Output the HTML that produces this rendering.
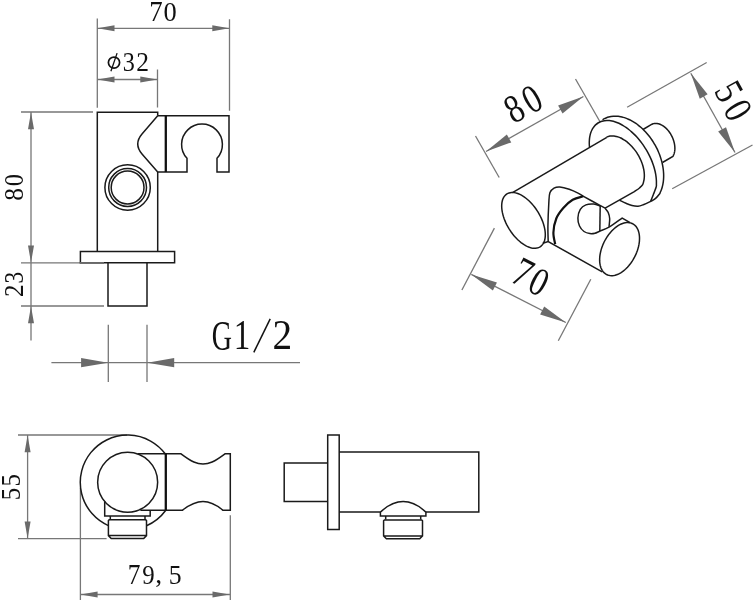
<!DOCTYPE html>
<html><head><meta charset="utf-8">
<style>
html,body{margin:0;padding:0;background:#fff;width:755px;height:600px;overflow:hidden}
svg{display:block;will-change:transform}
.o{fill:none;stroke:#1a1a1a;stroke-width:1.5;stroke-linejoin:miter}
.d{fill:none;stroke:#777;stroke-width:1.3}
.a{fill:#6a6a6a;stroke:none}
.t{font-family:"Liberation Serif",serif;fill:#111;stroke:#111;stroke-width:0}
</style></head><body>
<svg width="755" height="600" viewBox="0 0 755 600">
<!-- ===== Front view (top-left) ===== -->
<g class="d">
  <path d="M97.3,18.5V107.7 M229.5,19.2V110.8 M97.3,28.3H229.5"/>
  <path d="M157.5,69.6V107.6 M97.3,79.5H157.5"/>
  <path d="M21,112H93 M31,112V340.5 M21,262.8H104 M21,306H104"/>
  <path d="M108.3,324.7V382 M147,324.7V382 M51.4,362.7H300"/>
</g>
<g class="a">
  <path d="M97.5,28.3l17,-3v6z M229.3,28.3l-17,-3v6z"/>
  <path d="M97.5,79.5l17,-3v6z M157.3,79.5l-17,-3v6z"/>
  <path d="M31,112.2l-3,17h6z M31,262.6l-3,-17h6z M31,306.2l-3,17h6z"/>
  <path d="M108.1,362.7l-27,-4.6v9.2z M147.2,362.7l27,-4.6v9.2z"/>
</g>
<g class="o">
  <path d="M97.3,251.6V112.2H157.7V115.7"/>
  <path d="M157.7,172V251.6"/>
  <path d="M157.7,115.7L142,134Q133.5,144 142,154L157.7,172"/>
  <path d="M157.7,115.7H229V172H217V158.3A20.4,20.4 0 1 0 187,158.3V172H157.7"/>
  <circle cx="127.6" cy="187.5" r="22.7"/>
  <circle cx="127.6" cy="187.5" r="18.9"/>
  <circle cx="127.6" cy="187.5" r="16.4"/>
  <path d="M80.4,251.4H174.6V262.8H80.4Z"/>
  <path d="M108,262.8V306H147V262.8"/>
</g>
<path d="M165.8,115.7V172" fill="none" stroke="#111" stroke-width="2.3"/>
<path class="d" d="M79.7,262.8H104"/>
<!-- ===== Top view (bottom-left) ===== -->
<g class="d">
  <path d="M18,435H127 M18,538.6H106.6 M27.6,435V538.6"/>
  <path d="M80.4,488V600 M230.3,515.3V600 M80.4,594.5H229.7"/>
</g>
<g class="a">
  <path d="M27.6,435.2l-3,17h6z M27.6,538.4l-3,-17h6z"/>
  <path d="M80.6,594.5l17,-3v6z M229.5,594.5l-17,-3v6z"/>
</g>
<g class="o">
  <path d="M165.8,454.5A47.3,47.3 0 1 0 108.4,525.6"/>
  <path d="M146.5,525.8A47.3,47.3 0 0 0 165.8,510.3"/>
  <circle cx="127.65" cy="482.2" r="30"/>
  <path d="M137.9,453.8H181C192,462 197,464 203,464S214,462 225,453.8H230.3V510.3H223C214,503 209,501.6 203,501.6S192,503 182.3,510.3H140.4"/>
  <path d="M104.7,501.5V515.9H150.2V510.3"/>
  <path d="M110.3,515.9V519.6 M145,515.9V519.6"/>
  <path d="M109.2,519.8H145.7L146.5,520.6V535.6L143.7,538.6H111.2L108.4,535.6V520.6Z M108.4,535.6H146.5"/>
</g>
<path d="M165.8,453.3V510.3" fill="none" stroke="#111" stroke-width="2.3"/>
<!-- ===== Side view (bottom-right) ===== -->
<g class="o">
  <path d="M327.7,462.9H284.2V501.6H327.7"/>
  <path d="M327.7,435H339.2V529.4H327.7Z"/>
  <path d="M339.2,452.1H478.8V512.1H426 M380.5,512.1H339.2"/>
  <path d="M380.4,512.1V516.1H425.9V512.1 M380.4,512.1Q403.2,491 425.9,512.1"/>
  <path d="M385.7,516.1V519.6 M420.7,516.1V519.6"/>
  <path d="M384.4,519.9H421.7L422.5,520.7V535.9L419.7,538.8H386.4L383.6,535.9V520.7Z M383.6,535.9H422.5"/>
</g>
<g class="t">
<text transform="matrix(0.2691,0,0,0.2862,149.35,20.84)" font-size="100">7</text>
<text transform="matrix(0.2643,0,0,0.2785,163.54,20.62)" font-size="100">0</text>
<text transform="matrix(0.2415,0,0,0.2657,122.79,71.03)" font-size="100">3</text>
<text transform="matrix(0.2550,0,0,0.2652,136.35,71.00)" font-size="100">2</text>
<text stroke-width="0" transform="matrix(0.2800,0,0,0.4239,211.78,349.68)" font-size="100">G</text>
<text stroke-width="0" transform="matrix(0.3314,0,0,0.4229,233.72,349.40)" font-size="100">1</text>

<text stroke-width="0" transform="matrix(0.3925,0,0,0.4136,272.53,349.00)" font-size="100">2</text>
<text transform="matrix(0.2543,0,0,0.2862,127.75,583.94)" font-size="100">7</text>
<text transform="matrix(0.2488,0,0,0.2776,142.15,583.52)" font-size="100">9</text>
<text transform="matrix(0.2759,0,0,0.2627,155.30,582.66)" font-size="100">,</text>
<text transform="matrix(0.2575,0,0,0.2737,168.76,583.53)" font-size="100">5</text>
<text transform="matrix(0,-0.2548,0.2770,0,23.42,200.72)" font-size="100">8</text>
<text transform="matrix(0,-0.2452,0.2711,0,23.03,186.28)" font-size="100">0</text>
<text transform="matrix(0,-0.2500,0.2773,0,23.30,297.12)" font-size="100">2</text>
<text transform="matrix(0,-0.2341,0.2731,0,23.03,283.47)" font-size="100">3</text>
<text transform="matrix(0,-0.2500,0.2752,0,19.72,500.20)" font-size="100">5</text>
<text transform="matrix(0,-0.2500,0.2752,0,19.72,486.50)" font-size="100">5</text>
</g>
<path d="M270.2,318.8L253.8,352.3" fill="none" stroke="#111" stroke-width="1.5"/>
<g fill="none" stroke="#111"><ellipse cx="114" cy="62.6" rx="5.6" ry="5.5" stroke-width="1.7"/><path d="M117.1,53.1L110.9,71.3" stroke-width="1.3"/></g>
<!-- ===== Iso view (top-right) ===== -->
<g id="iso"><g class="d"><path d="M475.5,136 L499.2,177.5"/><path d="M575.5,79 L600,121.7"/><path d="M486,151.5 L583.4,96.5"/><path d="M627.1,107.2 L706.7,62.5"/><path d="M672.2,188.7 L752.5,145"/><path d="M690.8,73.3 L735,152.5"/><path d="M461.9,290 L494.4,228.1"/><path d="M558.3,340.8 L590.8,279.2"/><path d="M471.3,274.4 L565.8,322.5"/></g>
<g class="a"><path d="M486.00,151.50 L511.29,142.39 L506.86,134.55Z"/><path d="M583.40,96.50 L558.11,105.61 L562.54,113.45Z"/><path d="M690.80,73.30 L699.78,98.63 L707.64,94.25Z"/><path d="M735.00,152.50 L726.02,127.17 L718.16,131.55Z"/><path d="M471.30,274.40 L492.88,290.43 L496.96,282.41Z"/><path d="M565.80,322.50 L544.22,306.47 L540.14,314.49Z"/></g>
<g class="o"><path d="M506.91,193.94 L507.94,193.38 L509.04,192.96 L510.21,192.67 L511.45,192.51 L512.75,192.50 L514.10,192.61 L515.50,192.86 L516.93,193.25 L518.40,193.77 L519.89,194.42 L521.40,195.19 L522.92,196.09 L524.44,197.11 L525.96,198.24 L527.46,199.47 L528.95,200.81 L530.41,202.25 L531.84,203.77 L533.22,205.37 L534.56,207.05 L535.84,208.79 L537.07,210.59 L538.23,212.44 L539.31,214.32 L540.32,216.24 L541.25,218.17 L542.09,220.12 L542.84,222.06 L543.50,224.00 L544.05,225.92 L544.51,227.82 L544.87,229.68 L545.12,231.49 L545.27,233.25 L545.31,234.94 L545.24,236.57 L545.07,238.11 L544.80,239.57 L544.42,240.94 L543.93,242.21 L543.35,243.37 L542.67,244.41 L541.90,245.35 L541.04,246.15 L540.09,246.84 L539.07,247.39 L537.96,247.82 L536.79,248.11 L535.55,248.26 L534.25,248.28 L532.90,248.16 L531.51,247.91 L530.07,247.52 L528.61,247.01 L527.11,246.36 L525.60,245.58 L524.09,244.68 L522.56,243.67 L521.05,242.54 L519.54,241.30 L518.05,239.96 L516.59,238.53 L515.17,237.00 L513.78,235.40 L512.44,233.72 L511.16,231.98 L509.94,230.18 L508.78,228.34 L507.69,226.45 L506.68,224.54 L505.75,222.60 L504.91,220.66 L504.16,218.71 L503.51,216.77 L502.95,214.85 L502.49,212.96 L502.13,211.10 L501.88,209.29 L501.73,207.53 L501.69,205.83 L501.76,204.21 L501.93,202.66 L502.21,201.20 L502.59,199.83 L503.07,198.57 L503.65,197.41 L504.33,196.36 L505.10,195.43 L505.96,194.62Z"/>
<path d="M512.5,192.6 L606.8,137.3"/>
<path d="M606.67,137.07 C606.85,136.99 607.38,136.75 607.75,136.62 C608.12,136.49 608.49,136.37 608.88,136.28 C609.27,136.18 609.66,136.10 610.06,136.04 C610.47,135.98 610.88,135.94 611.29,135.91 C611.71,135.89 612.13,135.88 612.56,135.89 C612.99,135.90 613.43,135.93 613.87,135.98 C614.31,136.03 614.76,136.10 615.20,136.18 C615.65,136.26 616.11,136.36 616.57,136.48 C617.02,136.60 617.49,136.74 617.95,136.89 C618.41,137.05 618.88,137.22 619.35,137.41 C619.81,137.60 620.28,137.81 620.75,138.03 C621.22,138.25 621.69,138.49 622.16,138.75 C622.63,139.00 623.10,139.27 623.57,139.56 C624.04,139.85 624.51,140.15 624.97,140.47 C625.44,140.79 625.90,141.12 626.36,141.47 C626.82,141.82 627.28,142.18 627.73,142.56 C628.18,142.93 628.63,143.32 629.08,143.73 C629.52,144.13 629.96,144.54 630.40,144.97 C630.83,145.40 631.26,145.84 631.68,146.29 C632.10,146.74 632.52,147.21 632.93,147.68 C633.34,148.15 633.74,148.64 634.13,149.13 C634.52,149.62 634.91,150.13 635.29,150.64 C635.66,151.15 636.03,151.67 636.39,152.20 C636.75,152.72 637.10,153.26 637.43,153.80 C637.77,154.34 638.10,154.89 638.42,155.44 C638.73,156.00 639.04,156.56 639.34,157.12 C639.63,157.68 639.92,158.25 640.19,158.82 C640.46,159.39 640.72,159.96 640.97,160.54 C641.21,161.11 641.45,161.69 641.67,162.27 C641.89,162.85 642.10,163.43 642.30,164.01 C642.49,164.59 642.68,165.17 642.85,165.75 C643.01,166.32 643.17,166.90 643.31,167.48 C643.45,168.05 643.58,168.62 643.69,169.19 C643.80,169.76 643.90,170.32 643.99,170.88 C644.07,171.44 644.14,172.00 644.20,172.55 C644.25,173.10 644.29,173.64 644.32,174.18 C644.34,174.72 644.35,175.25 644.35,175.77 C644.35,176.30 644.33,176.81 644.30,177.32 C644.26,177.82 644.22,178.32 644.15,178.81 C644.09,179.30 644.17,179.26 643.93,180.24 C643.68,181.22 643.44,183.41 642.70,184.70 C641.96,185.99 640.90,186.85 639.50,188.00 C638.10,189.15 635.17,191.00 634.30,191.60 L605.1,208.1"/>
<path d="M589.47,147.03 C589.44,146.48 589.31,144.84 589.28,143.78 C589.26,142.72 589.28,141.68 589.34,140.67 C589.40,139.65 589.50,138.67 589.63,137.71 C589.77,136.75 589.95,135.83 590.16,134.93 C590.38,134.04 590.64,133.18 590.93,132.35 C591.22,131.53 591.55,130.74 591.92,129.99 C592.28,129.24 592.69,128.53 593.13,127.86 C593.56,127.19 594.04,126.56 594.55,125.97 C595.05,125.39 595.60,124.85 596.17,124.35 C596.74,123.86 597.35,123.41 597.98,123.00 C598.61,122.60 599.28,122.24 599.97,121.94 C600.66,121.63 601.38,121.37 602.12,121.16 C602.86,120.95 603.63,120.79 604.42,120.68 C605.20,120.57 606.02,120.51 606.84,120.50 C607.67,120.48 608.52,120.52 609.39,120.61 C610.25,120.70 611.13,120.84 612.03,121.03 C612.92,121.22 613.83,121.46 614.74,121.74 C615.66,122.03 616.58,122.37 617.51,122.75 C618.44,123.13 619.38,123.56 620.32,124.04 C621.26,124.51 622.21,125.04 623.15,125.60 C624.10,126.17 625.04,126.78 625.98,127.43 C626.92,128.08 627.86,128.78 628.78,129.51 C629.71,130.24 630.64,131.02 631.55,131.83 C632.46,132.64 633.36,133.48 634.25,134.36 C635.13,135.24 636.01,136.16 636.87,137.10 C637.72,138.04 638.57,139.02 639.39,140.02 C640.21,141.02 641.01,142.05 641.79,143.10 C642.57,144.15 643.33,145.23 644.06,146.32 C644.79,147.41 645.50,148.53 646.17,149.66 C646.85,150.78 647.51,151.93 648.13,153.09 C648.75,154.24 649.34,155.41 649.90,156.59 C650.46,157.76 650.99,158.94 651.48,160.13 C651.97,161.31 652.43,162.50 652.85,163.69 C653.28,164.88 653.67,166.06 654.02,167.24 C654.37,168.42 654.68,169.60 654.96,170.77 C655.23,171.93 655.47,173.09 655.67,174.23 C655.87,175.37 656.03,176.51 656.15,177.62 C656.27,178.73 656.35,179.82 656.40,180.89 C656.44,181.97 656.44,183.02 656.40,184.04 C656.36,185.07 656.68,185.26 656.17,187.04 C655.65,188.82 654.21,192.34 653.30,194.70 C652.39,197.06 651.13,200.12 650.70,201.20"/>
<path d="M602.50,119.77 C602.83,119.58 603.79,118.98 604.46,118.64 C605.13,118.30 605.82,117.99 606.53,117.72 C607.24,117.44 607.96,117.21 608.70,117.01 C609.44,116.81 610.20,116.64 610.96,116.52 C611.73,116.39 612.51,116.30 613.30,116.24 C614.09,116.19 614.90,116.17 615.71,116.19 C616.52,116.21 617.34,116.26 618.17,116.35 C619.00,116.45 619.84,116.58 620.68,116.74 C621.52,116.91 622.37,117.11 623.21,117.35 C624.06,117.58 624.92,117.86 625.77,118.16 C626.62,118.47 627.48,118.82 628.33,119.19 C629.19,119.57 630.04,119.98 630.89,120.43 C631.74,120.87 632.59,121.35 633.43,121.86 C634.27,122.37 635.11,122.92 635.94,123.49 C636.76,124.06 637.59,124.67 638.40,125.30 C639.21,125.94 640.01,126.60 640.81,127.29 C641.60,127.98 642.38,128.70 643.15,129.44 C643.91,130.19 644.67,130.96 645.41,131.75 C646.15,132.55 646.87,133.37 647.58,134.21 C648.29,135.05 648.98,135.91 649.65,136.79 C650.32,137.67 650.98,138.58 651.61,139.50 C652.24,140.42 652.86,141.35 653.45,142.31 C654.04,143.26 654.61,144.23 655.16,145.21 C655.71,146.19 656.23,147.19 656.73,148.19 C657.23,149.20 657.71,150.21 658.16,151.24 C658.61,152.26 659.04,153.29 659.43,154.33 C659.83,155.36 660.20,156.41 660.55,157.45 C660.89,158.50 661.21,159.55 661.50,160.60 C661.79,161.65 662.05,162.70 662.28,163.75 C662.52,164.79 662.72,165.84 662.89,166.88 C663.07,167.92 663.21,168.96 663.33,169.99 C663.44,171.01 663.53,172.04 663.58,173.05 C663.64,174.06 663.67,175.06 663.66,176.05 C663.66,177.04 663.62,178.02 663.56,178.98 C663.50,179.95 663.40,180.90 663.28,181.83 C663.16,182.76 663.00,183.67 662.82,184.57 C662.64,185.46 662.43,186.34 662.19,187.20 C661.95,188.05 661.68,188.88 661.38,189.69 C661.08,190.50 660.76,191.29 660.40,192.05 C660.05,192.81 660.12,193.15 659.27,194.26 C658.42,195.37 656.73,197.53 655.30,198.70 C653.87,199.87 652.70,200.30 650.70,201.30 C648.70,202.30 645.42,203.88 643.30,204.70 C641.18,205.52 639.88,206.07 638.00,206.20 C636.12,206.33 634.00,205.98 632.00,205.50 C630.00,205.02 628.05,204.17 626.00,203.30 C623.95,202.43 620.75,200.80 619.70,200.30"/>
<path d="M643,129.5 L652,124.2 L652.00,124.20 L652.53,123.97 653.08,123.78 653.65,123.63 654.23,123.51 654.82,123.44 655.43,123.40 656.04,123.40 656.67,123.44 657.30,123.52 657.94,123.64 658.59,123.80 659.24,124.00 659.89,124.23 660.55,124.50 661.20,124.81 661.86,125.15 662.51,125.53 663.15,125.94 663.80,126.39 664.43,126.87 665.06,127.38 665.68,127.92 666.28,128.50 666.88,129.10 667.46,129.72 668.03,130.38 668.58,131.06 669.11,131.76 669.63,132.48 670.13,133.22 670.60,133.98 671.06,134.76 671.49,135.55 671.91,136.36 672.29,137.17 672.66,138.00 672.99,138.84 673.31,139.68 673.59,140.53 673.85,141.38 674.08,142.23 674.28,143.08 674.45,143.93 674.60,144.77 674.71,145.61 674.79,146.44 674.85,147.27 674.87,148.08 674.87,148.87 674.83,149.66 674.76,150.42 674.67,151.17 674.54,151.90 674.39,152.61 674.20,153.30 673.99,153.96 673.75,154.60 673.48,155.21 673.19,155.79 672.87,156.34 L662.5,162.5"/>
<path d="M542.8,243.3 L548.2,241.6 L602.2,271.8"/>
<path d="M548.20,241.20 C548.15,238.78 547.80,233.02 547.90,226.70 C548.00,220.38 548.47,208.95 548.80,203.30 C549.13,197.65 549.03,195.32 549.90,192.80 C550.77,190.28 552.35,189.17 554.00,188.20 C555.65,187.23 557.27,186.82 559.80,187.00 C562.33,187.18 566.08,188.23 569.20,189.30 C572.32,190.37 575.97,192.13 578.50,193.40 C581.03,194.67 580.90,194.95 584.40,196.90 C587.90,198.85 596.05,203.23 599.50,205.10 C602.95,206.97 604.17,207.60 605.10,208.10"/>
<path d="M632.58,223.70 L633.60,224.30 L634.56,225.02 L635.44,225.86 L636.25,226.82 L636.97,227.88 L637.61,229.04 L638.16,230.31 L638.62,231.66 L638.99,233.10 L639.26,234.62 L639.44,236.21 L639.52,237.86 L639.50,239.56 L639.39,241.32 L639.18,243.11 L638.87,244.93 L638.47,246.77 L637.98,248.62 L637.40,250.47 L636.73,252.32 L635.98,254.15 L635.15,255.96 L634.24,257.74 L633.26,259.47 L632.22,261.15 L631.11,262.77 L629.95,264.33 L628.74,265.81 L627.48,267.21 L626.18,268.53 L624.85,269.75 L623.50,270.86 L622.12,271.88 L620.74,272.78 L619.35,273.56 L617.95,274.23 L616.57,274.77 L615.20,275.19 L613.86,275.49 L612.54,275.65 L611.25,275.68 L610.01,275.59 L608.81,275.37 L607.67,275.01 L606.58,274.54 L605.56,273.94 L604.60,273.21 L603.72,272.37 L602.92,271.42 L602.19,270.36 L601.55,269.19 L601.00,267.93 L600.54,266.58 L600.17,265.14 L599.90,263.62 L599.72,262.03 L599.64,260.38 L599.66,258.67 L599.77,256.92 L599.98,255.13 L600.29,253.31 L600.69,251.47 L601.18,249.62 L601.76,247.76 L602.43,245.91 L603.18,244.08 L604.01,242.28 L604.92,240.50 L605.90,238.77 L606.94,237.09 L608.05,235.46 L609.21,233.91 L610.43,232.42 L611.69,231.02 L612.98,229.71 L614.31,228.49 L615.67,227.37 L617.04,226.36 L618.43,225.46 L619.82,224.67 L621.21,224.01 L622.59,223.46 L623.96,223.04 L625.31,222.75 L626.62,222.59 L627.91,222.55 L629.15,222.65 L630.35,222.87 L631.49,223.22Z"/>
<path d="M600.20,206.10 C599.13,205.77 596.18,204.30 593.80,204.10 C591.42,203.90 588.15,204.03 585.90,204.90 C583.65,205.77 581.63,207.12 580.30,209.30 C578.97,211.48 578.03,215.22 577.90,218.00 C577.77,220.78 578.48,223.75 579.50,226.00 C580.52,228.25 582.27,230.23 584.00,231.50 C585.73,232.77 588.07,233.32 589.90,233.60 C591.73,233.88 593.38,233.60 595.00,233.20 C596.62,232.80 597.27,232.20 599.60,231.20 C601.93,230.20 605.32,229.33 609.00,227.20 C612.68,225.07 619.58,219.87 621.70,218.40 L622.2,218.1 L630.1,222.6"/>
<path d="M600.2,206.1 L599.8,231.2"/>
<path d="M605.00,208.10 C605.53,208.83 607.42,210.72 608.20,212.50 C608.98,214.28 609.57,216.42 609.70,218.80 C609.83,221.18 609.12,225.47 609.00,226.80"/></g>
<path d="M555.20,244.20 C554.90,242.25 553.22,236.78 553.40,232.50 C553.58,228.22 554.65,222.58 556.30,218.50 C557.95,214.42 560.57,211.12 563.30,208.00 C566.03,204.88 569.38,201.75 572.70,199.80 C576.02,197.85 581.45,196.88 583.20,196.30" fill="none" stroke="#111" stroke-width="2.2"/>
<g class="t" font-size="100"><text transform="translate(514.2,108.75) rotate(-29.2) scale(0.325,0.4) translate(-25.0,32.75)">8</text><text transform="translate(531.9,99) rotate(-29.2) scale(0.325,0.4) translate(-25.0,32.75)">0</text><text transform="translate(728.9,92) rotate(61) scale(0.325,0.4) translate(-26.0,32.25)">5</text><text transform="translate(738,110.2) rotate(61) scale(0.325,0.4) translate(-25.0,32.75)">0</text><text transform="translate(523.5,272.8) rotate(27) scale(0.34,0.42) translate(-26.75,33.0)">7</text><text transform="translate(539,282.1) rotate(27) scale(0.325,0.4) translate(-25.0,32.75)">0</text></g>
</g><!--/iso-->
</svg>
</body></html>
